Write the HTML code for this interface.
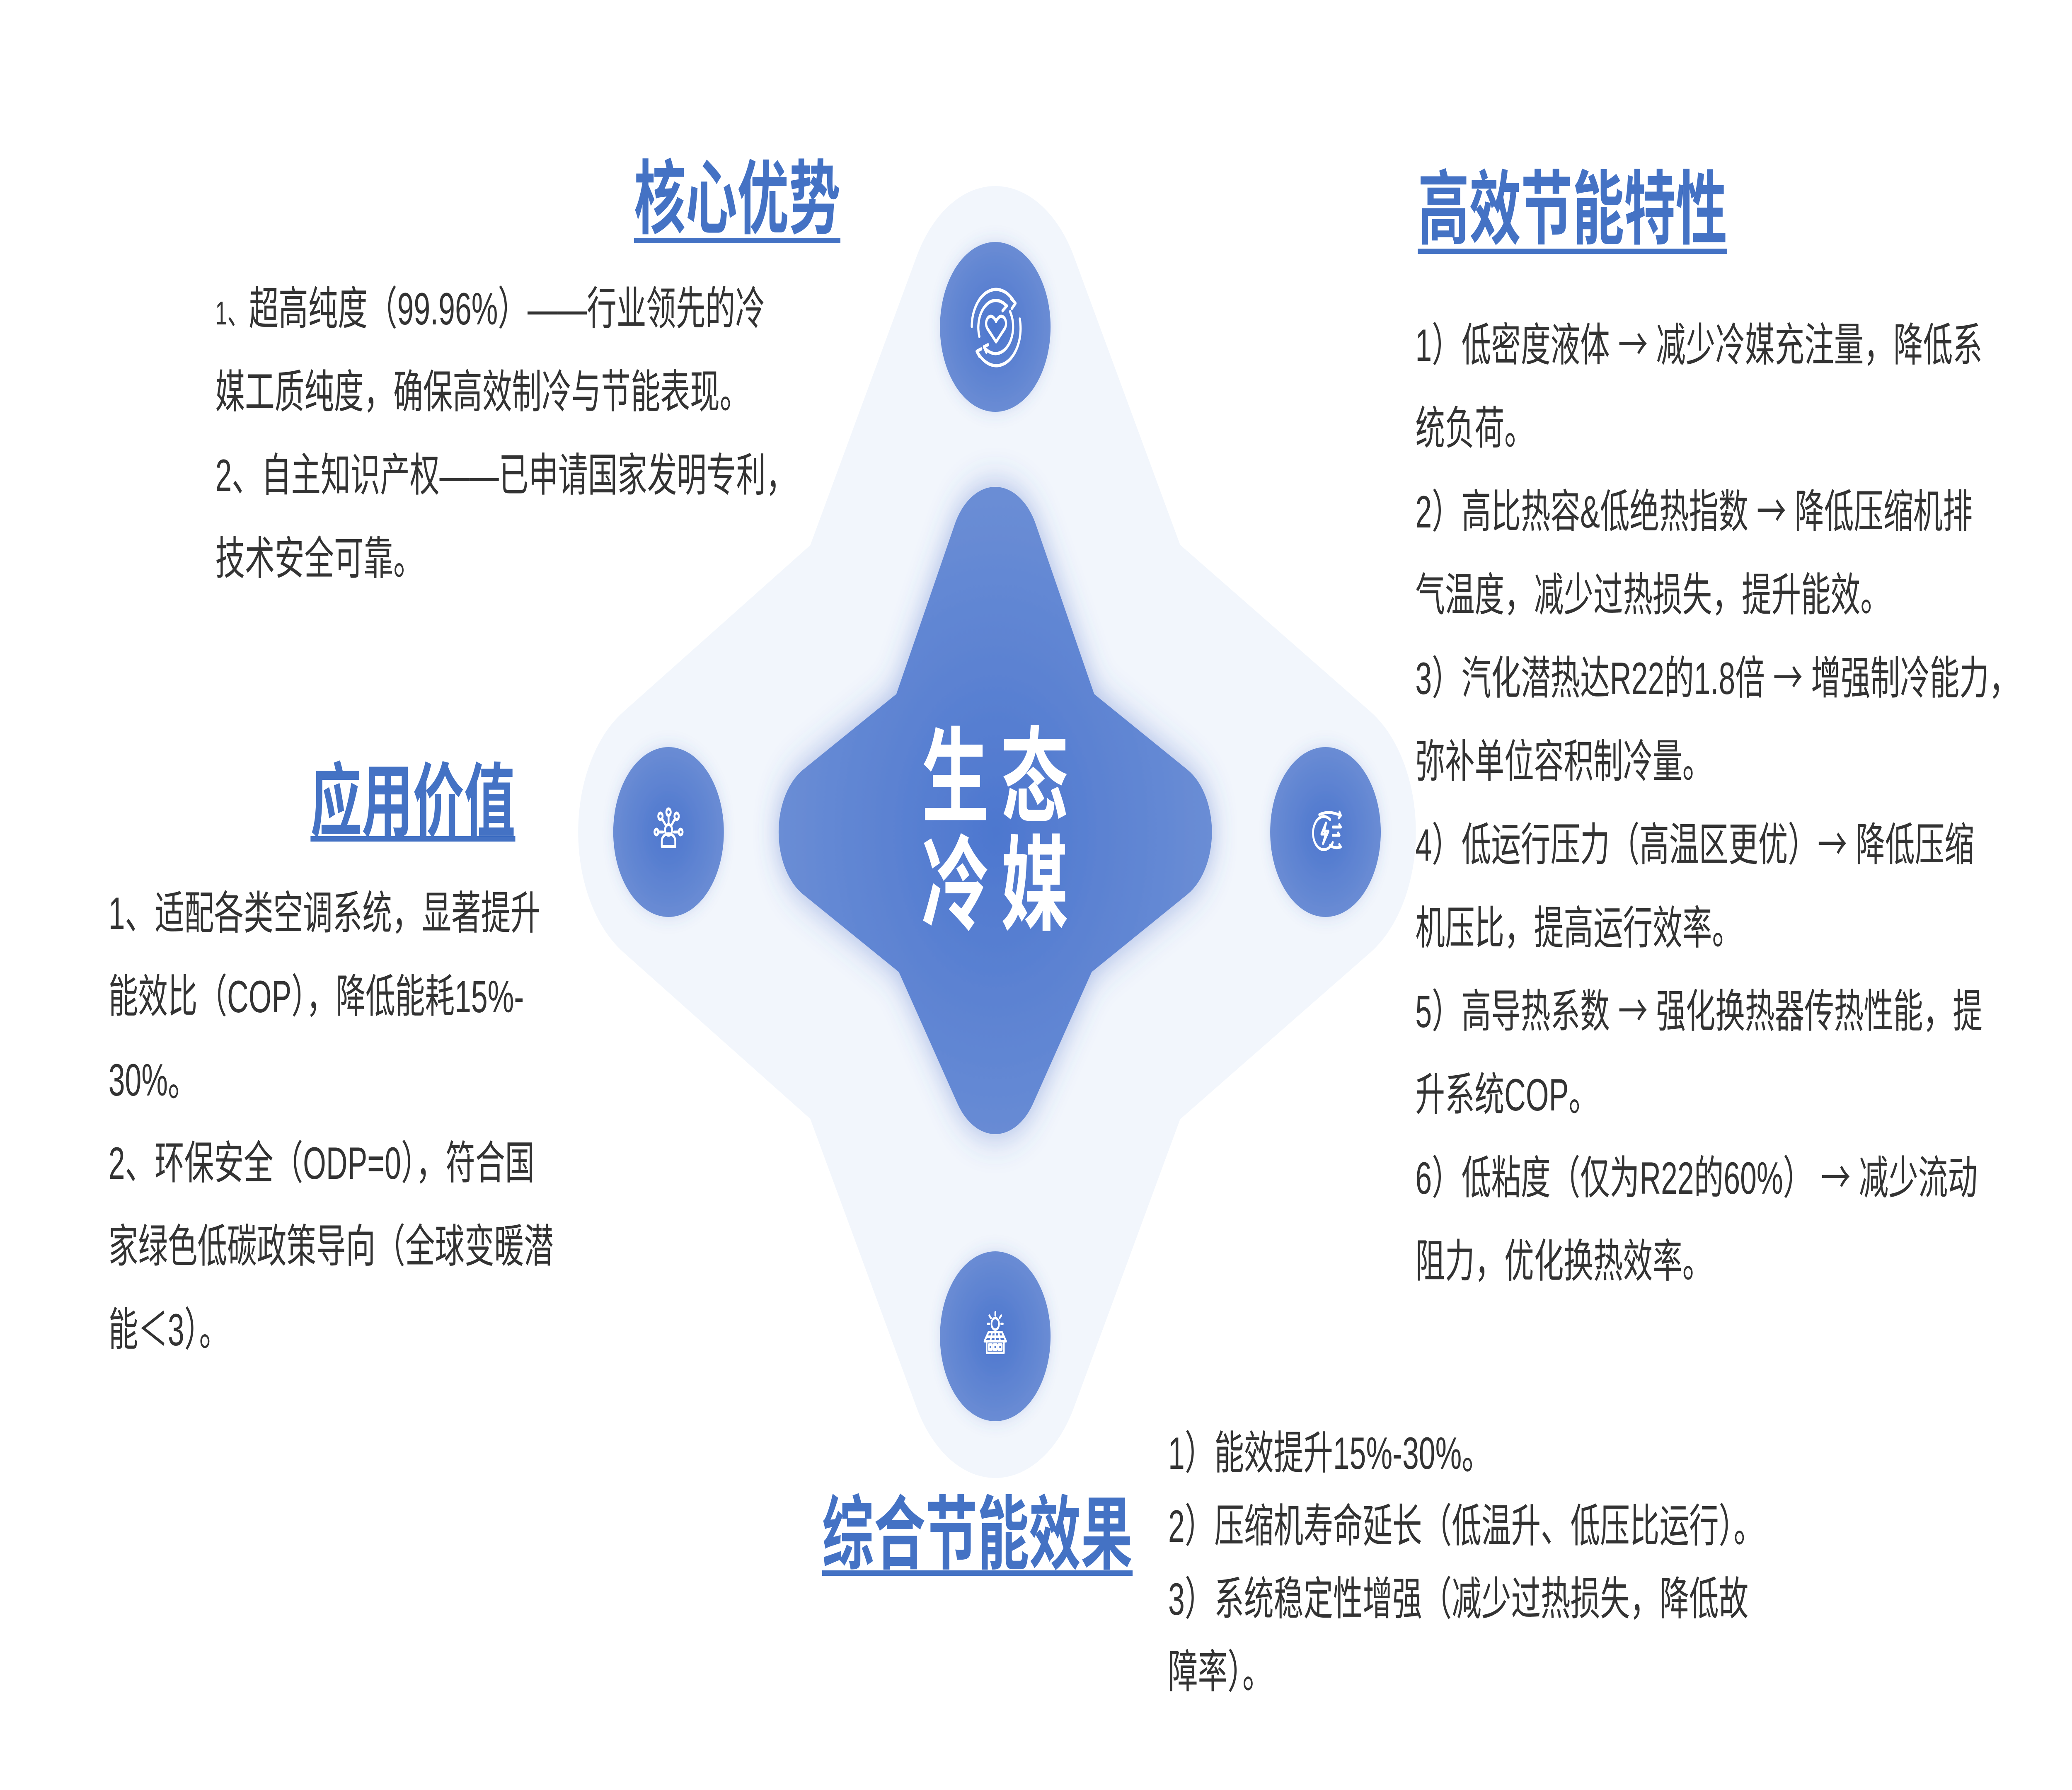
<!DOCTYPE html>
<html><head><meta charset="utf-8">
<style>
html,body{margin:0;padding:0;background:#fff;width:100%;height:100%;overflow:hidden;}
svg{display:block;width:100vw;height:100vh;}
.b{font-family:"Liberation Sans","Noto Sans CJK SC",sans-serif;font-size:110px;fill:#333;}
.ar{font-family:"Noto Sans CJK SC",sans-serif;font-size:110px;}
.t{font-family:"Liberation Sans","Noto Sans CJK SC",sans-serif;font-size:195px;font-weight:bold;fill:#4472c4;}
.ct{font-family:"Liberation Sans","Noto Sans CJK SC",sans-serif;font-size:250px;font-weight:bold;fill:#fff;}
</style></head><body>
<svg viewBox="0 0 7680 4320" preserveAspectRatio="none" xmlns="http://www.w3.org/2000/svg">
<defs>
<radialGradient id="dg" gradientUnits="userSpaceOnUse" cx="3689" cy="2008" r="800">
<stop offset="0" stop-color="#4d77cf"/><stop offset="1" stop-color="#6a8dd5"/></radialGradient>
<radialGradient id="ig" cx="0.5" cy="0.5" r="0.5">
<stop offset="0" stop-color="#4c76ce"/><stop offset="1" stop-color="#6a8cd4"/></radialGradient>
<filter id="sh" x="-30%" y="-30%" width="160%" height="160%">
<feDropShadow dx="0" dy="0" stdDeviation="45" flood-color="#3f66c4" flood-opacity="0.45"/></filter>
<filter id="sh2" x="-30%" y="-30%" width="160%" height="160%">
<feDropShadow dx="0" dy="0" stdDeviation="20" flood-color="#3f66c4" flood-opacity="0.2"/></filter>
</defs>
<rect width="7680" height="4320" fill="#fff"/>
<polygon points="3689,784 4128,1560 4913,2008 4128,2456 3689,3232 3250,2456 2478,2008 3250,1560" fill="#f2f6fc" stroke="#f2f6fc" stroke-width="670" stroke-linejoin="round"/>
<g filter="url(#sh)">
<polygon points="3689,1345 3930,1801 4322,2008 3930,2215 3689,2567 3448,2215 3056,2008 3448,1801" fill="url(#dg)" stroke="url(#dg)" stroke-width="340" stroke-linejoin="round"/>
</g>
<g filter="url(#sh2)">
<circle cx="3689" cy="789" r="205" fill="url(#ig)"/>
<circle cx="2478" cy="2008" r="205" fill="url(#ig)"/>
<circle cx="4913" cy="2008" r="205" fill="url(#ig)"/>
<circle cx="3689" cy="3225" r="205" fill="url(#ig)"/>
</g>
<g fill="none" stroke="#fff" stroke-width="8" stroke-linecap="round" stroke-linejoin="round">
<g transform="translate(3692,790)">
<path d="M-90,-2 A90,90 0 0 1 70,-58"/>
<path d="M88,-20 A90,90 0 0 1 -70,58"/>
<path d="M-62,22 A65,65 0 0 1 38,-52"/>
<path d="M52,-38 A65,65 0 0 1 -45,47"/>
<path d="M55,-70 L72,-58 L58,-45 M28,-58 L40,-52 L24,-40 M-62,70 L-72,58 L-55,52 M-36,60 L-45,47 L-30,42"/>
<path d="M0,35 L-32,3 C-45,-12 -30,-32 -12,-25 C-6,-22 -2,-18 0,-14 C2,-18 6,-22 12,-25 C30,-32 45,-12 32,3 Z"/>
</g>
<g transform="translate(2478,2008)" stroke-width="7">
<circle cx="0" cy="-5" r="13"/>
<path d="M-25,35 L-25,22 A25,18 0 0 1 25,22 L25,35 Z"/>
<circle cx="0" cy="-48" r="8"/><path d="M0,-40 L0,-18"/>
<circle cx="-30" cy="-38" r="8"/><path d="M-24,-32 L-12,-18"/>
<circle cx="30" cy="-38" r="8"/><path d="M24,-32 L12,-18"/>
<circle cx="-45" cy="0" r="7"/><path d="M-38,0 L-20,0"/>
<circle cx="45" cy="0" r="7"/><path d="M38,0 L20,0"/>
</g>
<g transform="translate(4910,2008)" stroke-width="7">
<path d="M20,-30 A40,40 0 1 0 30,25"/>
<path d="M5,-22 L-12,5 L4,5 L-6,28 L14,-2 L-2,-2 Z"/>
<path d="M-20,-42 C15,-52 40,-45 60,-40 L55,-48 M60,-40 L52,-34"/>
<path d="M30,-12 L60,-12 L54,-18"/>
<path d="M30,8 L55,8 L50,2"/>
<path d="M20,32 C35,40 50,38 60,36 L54,30"/>
</g>
<g transform="translate(3689,3225)" stroke-width="6">
<circle cx="0" cy="-30" r="14"/>
<path d="M0,-58 L0,-50 M-22,-50 L-16,-44 M22,-50 L16,-44 M-28,-30 L-22,-30 M28,-30 L22,-30"/>
<path d="M-25,-10 L25,-10 L40,12 L-40,12 Z M-12,-10 L-18,12 M12,-10 L18,12 M0,-10 L0,12 M-32,1 L32,1"/>
<path d="M-32,12 L-32,40 L32,40 L32,12"/>
<rect x="-24" y="20" width="12" height="12"/><rect x="-6" y="20" width="12" height="12"/><rect x="12" y="20" width="12" height="12"/>
</g>
</g>

<text class="ct" x="3541" y="1964" text-anchor="middle">生</text>
<text class="ct" x="3835" y="1964" text-anchor="middle">态</text>
<text class="ct" x="3541" y="2224" text-anchor="middle">冷</text>
<text class="ct" x="3835" y="2224" text-anchor="middle">媒</text>

<text class="t" x="2350" y="548" textLength="765" lengthAdjust="spacingAndGlyphs">核心优势</text>
<rect x="2350" y="574" width="765" height="13" fill="#4472c4"/>
<text class="t" x="5255" y="573" textLength="1147" lengthAdjust="spacingAndGlyphs">高效节能特性</text>
<rect x="5255" y="600" width="1147" height="13" fill="#4472c4"/>
<text class="t" x="1151" y="2003" textLength="759" lengthAdjust="spacingAndGlyphs">应用价值</text>
<rect x="1151" y="2018" width="759" height="13" fill="#4472c4"/>
<text class="t" x="3047" y="3771" textLength="1151" lengthAdjust="spacingAndGlyphs">综合节能效果</text>
<rect x="3047" y="3790" width="1151" height="13" fill="#4472c4"/>

<g class="b">
<text x="798" y="783"><tspan font-size="80">1、</tspan>超高纯度（99.96%）——行业领先的冷</text>
<text x="798" y="984">媒工质纯度，确保高效制冷与节能表现。</text>
<text x="798" y="1185">2、自主知识产权——已申请国家发明专利，</text>
<text x="798" y="1386">技术安全可靠。</text>

<text x="5246" y="871">1）低密度液体 <tspan class="ar">→</tspan> 减少冷媒充注量，降低系</text>
<text x="5246" y="1072">统负荷。</text>
<text x="5246" y="1273">2）高比热容&amp;低绝热指数 <tspan class="ar">→</tspan> 降低压缩机排</text>
<text x="5246" y="1474">气温度，减少过热损失，提升能效。</text>
<text x="5246" y="1675">3）汽化潜热达R22的1.8倍 <tspan class="ar">→</tspan> 增强制冷能力，</text>
<text x="5246" y="1876">弥补单位容积制冷量。</text>
<text x="5246" y="2077">4）低运行压力（高温区更优）<tspan class="ar">→</tspan> 降低压缩</text>
<text x="5246" y="2278">机压比，提高运行效率。</text>
<text x="5246" y="2479">5）高导热系数 <tspan class="ar">→</tspan> 强化换热器传热性能，提</text>
<text x="5246" y="2680">升系统COP。</text>
<text x="5246" y="2881">6）低粘度（仅为R22的60%） <tspan class="ar">→</tspan> 减少流动</text>
<text x="5246" y="3082">阻力，优化换热效率。</text>

<text x="402" y="2242">1、适配各类空调系统，显著提升</text>
<text x="402" y="2443">能效比（COP），降低能耗15%-</text>
<text x="402" y="2644">30%。</text>
<text x="402" y="2845">2、环保安全（ODP=0），符合国</text>
<text x="402" y="3046">家绿色低碳政策导向（全球变暖潜</text>
<text x="402" y="3247">能＜3）。</text>

<text x="4330" y="3545">1）能效提升15%-30%。</text>
<text x="4330" y="3721">2）压缩机寿命延长（低温升、低压比运行）。</text>
<text x="4330" y="3897">3）系统稳定性增强（减少过热损失，降低故</text>
<text x="4330" y="4073">障率）。</text>
</g>
</svg>
</body></html>
